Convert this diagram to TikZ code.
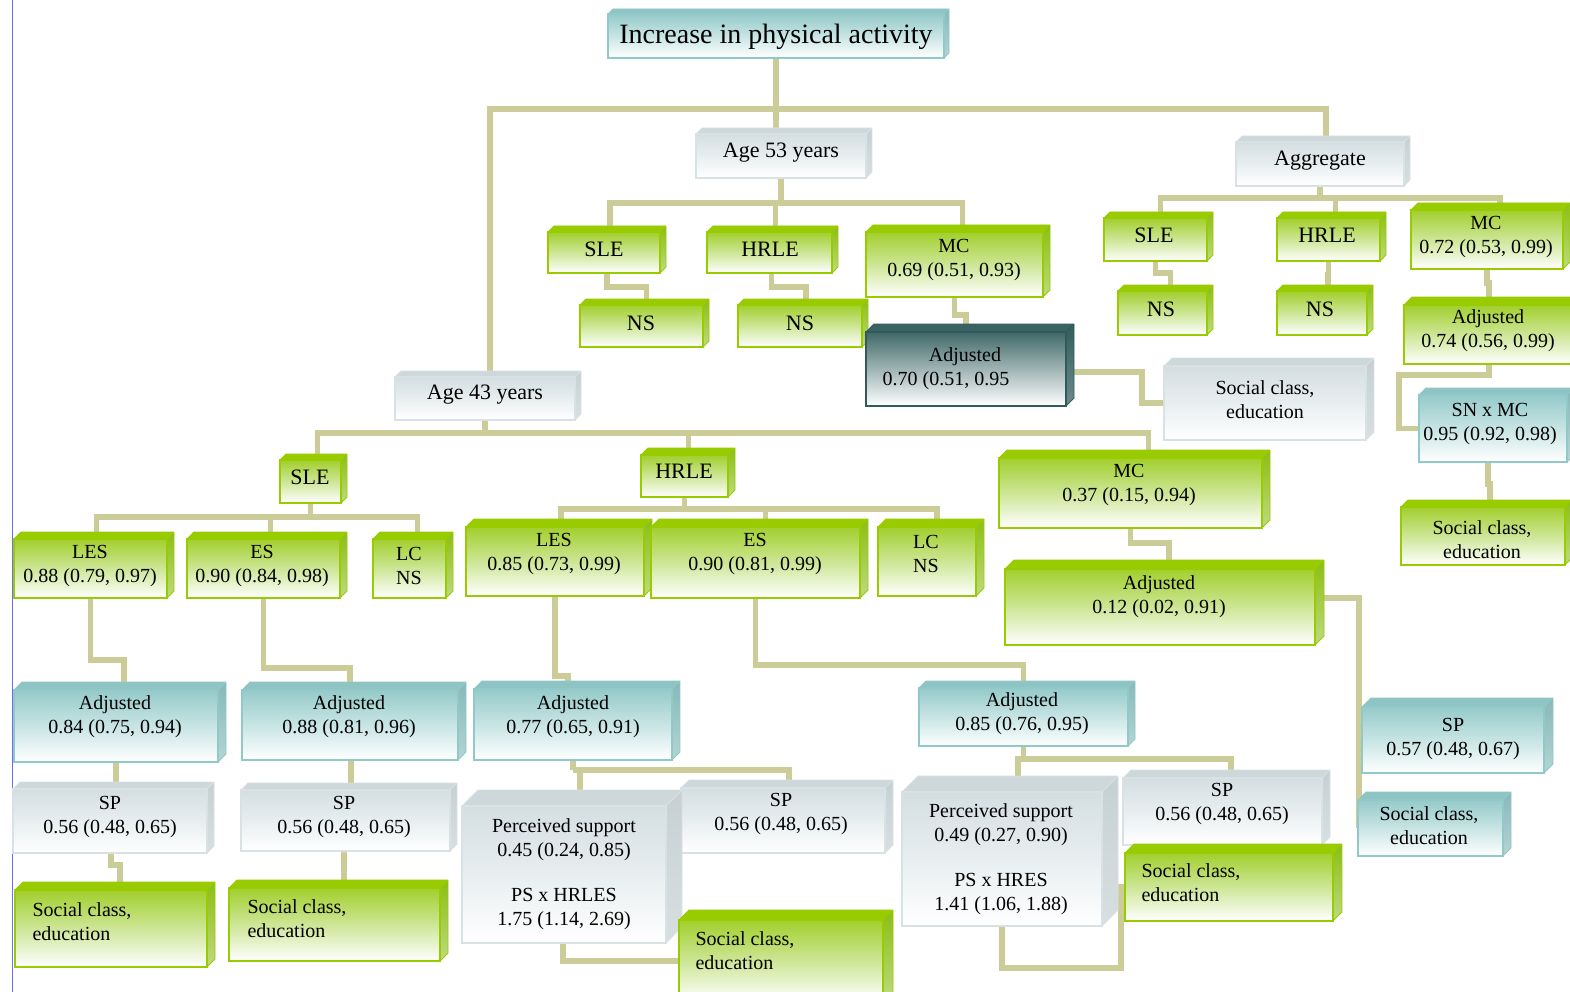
\documentclass[tikz,border=0pt]{standalone}
\usepackage{fontspec}
\setmainfont{Liberation Serif}

% colour sets: face = top face, front = front-top tint, mid = halfway tint,
% sideA/sideB = right face gradient, line = outline
\definecolor{grface}{RGB}{153,204,0}
\definecolor{grfront}{RGB}{162,207,45}
\definecolor{grmid}{RGB}{205,230,150}
\definecolor{grsideA}{RGB}{140,190,20}
\definecolor{grsideB}{RGB}{190,218,130}
\definecolor{grline}{RGB}{153,204,0}

\definecolor{tlface}{RGB}{143,196,196}
\definecolor{tlfront}{RGB}{150,202,202}
\definecolor{tlmid}{RGB}{200,228,228}
\definecolor{tlsideA}{RGB}{135,185,185}
\definecolor{tlsideB}{RGB}{180,212,212}
\definecolor{tlline}{RGB}{145,200,200}

\definecolor{gyface}{RGB}{206,216,219}
\definecolor{gyfront}{RGB}{212,222,225}
\definecolor{gymid}{RGB}{232,238,240}
\definecolor{gysideA}{RGB}{198,208,211}
\definecolor{gysideB}{RGB}{216,223,225}
\definecolor{gyline}{RGB}{216,225,228}

\definecolor{dkface}{RGB}{58,98,98}
\definecolor{dkfront}{RGB}{64,104,104}
\definecolor{dkmid}{RGB}{160,180,180}
\definecolor{dksideA}{RGB}{52,92,92}
\definecolor{dksideB}{RGB}{110,140,140}
\definecolor{dkline}{RGB}{50,90,90}

\definecolor{lineclr}{RGB}{204,204,153}
\definecolor{edgeblue}{RGB}{110,110,240}

\newcommand{\hd}{\fontsize{22}{26}\selectfont}
\newcommand{\ttl}{\fontsize{28}{32}\selectfont}

\pgfdeclarelayer{paper}
\pgfdeclarelayer{wires}
\pgfsetlayers{paper,wires,main}

\tikzset{
  conn/.style={draw=lineclr, line width=5.5pt},
  boxtext/.style={inner sep=0pt, align=center, yshift=-3pt, font=\fontsize{20}{24}\selectfont},
}

% #1 colour set, #2 name, #3 x1, #4 y1, #5 x2, #6 y2, #7 depth, #8 text centre, #9 text
\newcommand{\cube}[9]{%
  \fill[#1face] (#3,#4) -- ({#3+#7},{#4-#7}) -- ({#5+#7},{#4-#7}) -- (#5,#4) -- cycle;
  \shade[top color=#1sideA, bottom color=#1sideB]
    (#5,#4) -- ({#5+#7},{#4-#7}) -- ({#5+#7},{#6-#7}) -- (#5,#6) -- cycle;
  \shade[top color=#1front, bottom color=white, middle color=#1mid] (#3,#4) rectangle (#5,#6);
  \draw[#1line, line width=1.4pt] (#3,#4) rectangle (#5,#6);
  \draw[#1line, line width=0.8pt, line join=round]
    (#3,#4) -- ({#3+#7},{#4-#7}) -- ({#5+#7},{#4-#7}) -- ({#5+#7},{#6-#7}) -- (#5,#6)
    (#5,#4) -- ({#5+#7},{#4-#7});
  \node[inner sep=0pt, minimum width={#5-#3}, minimum height={#6-#4}] (#2)
    at ({(#3+#5)/2},{(#4+#6)/2}) {};
  \node[boxtext] (#2-t) at (#8) {#9};
}
\newcommand{\leftpair}[2]{\begin{tabular}{@{}l@{}}#1\\#2\end{tabular}}

\begin{document}
\begin{tikzpicture}[x=1pt,y=-1pt]
\useasboundingbox (0,0) rectangle (1570,992);
\clip (0,0) rectangle (1570,992);
\begin{pgfonlayer}{paper}
  \fill[white] (0,0) rectangle (1570,992);
  \draw[edgeblue, line width=1.2pt] (12.5,0) -- (12.5,992);
\end{pgfonlayer}

% ---------- top levels ----------
\cube{tl}{title}{608}{14}{944}{58}{5}{776,34}{\ttl Increase in physical activity}
\cube{gy}{age53}{696}{134}{866}{178}{6}{781,150}{\hd Age 53 years}
\cube{gy}{aggr}{1236}{142}{1404}{186}{6}{1320,158}{\hd Aggregate}
\cube{gy}{age43}{395}{377}{575}{420}{6}{485,392}{\hd Age 43 years}

% ---------- age 53 branch ----------
\cube{gr}{sle53}{548}{232}{660}{273}{6}{604,246}{\hd SLE}
\cube{gr}{hrle53}{707}{232}{832}{273}{6}{770,246}{\hd HRLE}
\cube{gr}{mc53}{866}{232}{1043}{297}{7}{954,257}{MC\\0.69 (0.51, 0.93)}
\cube{gr}{ns1}{580}{305}{703}{347}{6}{641,320}{\hd NS}
\cube{gr}{ns2}{738}{305}{862}{347}{6}{800,320}{\hd NS}
\cube{dk}{adj53}{866}{332}{1066}{406}{8}{946,366}{\hspace*{38pt}Adjusted\\0.70 (0.51, 0.95}
\cube{gy}{sc53}{1164}{366}{1366}{440}{8}{1265,397}{Social class,\\education}

% ---------- aggregate branch ----------
\cube{gr}{sleag}{1104}{218}{1207}{261}{6}{1154,232}{\hd SLE}
\cube{gr}{hrleag}{1277}{218}{1380}{261}{6}{1327,232}{\hd HRLE}
\cube{gr}{mcag}{1411}{210}{1563}{269}{7}{1486,234}{MC\\0.72 (0.53, 0.99)}
\cube{gr}{nsag1}{1118}{291}{1207}{335}{6}{1161,306}{\hd NS}
\cube{gr}{nsag2}{1277}{291}{1367}{335}{6}{1320,306}{\hd NS}
\cube{gr}{adjag}{1404}{305}{1574}{364}{8}{1488,328}{Adjusted\\0.74 (0.56, 0.99)}
\cube{tl}{snmc}{1419}{395}{1567}{462}{7}{1490,421}{SN x MC\\0.95 (0.92, 0.98)}
\cube{gr}{scag}{1401}{507}{1565}{565}{7}{1482,537}{Social class,\\education}

% ---------- age 43 branch ----------
\cube{gr}{sle43}{280}{460}{341}{503}{6}{310,474}{\hd SLE}
\cube{gr}{hrle43}{641}{455}{728}{497}{7}{684,468}{\hd HRLE}
\cube{gr}{mc43}{999}{458}{1262}{528}{8}{1129,482}{MC\\0.37 (0.15, 0.94)}
\cube{gr}{les1}{14}{539}{167}{598}{7}{90,563}{LES\\0.88 (0.79, 0.97)}
\cube{gr}{es1}{187}{539}{340}{598}{7}{262,563}{ES\\0.90 (0.84, 0.98)}
\cube{gr}{lc1}{373}{539}{446}{598}{7}{409,563}{LC\\NS}
\cube{gr}{les2}{466}{527}{644}{596}{8}{554,551}{LES\\0.85 (0.73, 0.99)}
\cube{gr}{es2}{651}{527}{860}{598}{8}{755,551}{ES\\0.90 (0.81, 0.99)}
\cube{gr}{lc2}{878}{527}{976}{596}{8}{926,551}{LC\\NS}
\cube{gr}{adjmc}{1005}{569}{1315}{645}{9}{1159,594}{Adjusted\\0.12 (0.02, 0.91)}

\cube{tl}{adj1}{14}{690}{218}{762}{8}{115,714}{Adjusted\\0.84 (0.75, 0.94)}
\cube{tl}{adj2}{242}{690}{458}{760}{8}{349,714}{Adjusted\\0.88 (0.81, 0.96)}
\cube{tl}{adj3}{474}{689}{672}{760}{8}{573,714}{Adjusted\\0.77 (0.65, 0.91)}
\cube{tl}{adj4}{919}{688}{1128}{746}{7}{1022,711}{Adjusted\\0.85 (0.76, 0.95)}
\cube{tl}{sp57}{1362}{707}{1544}{773}{9}{1453,736}{SP\\0.57 (0.48, 0.67)}
\cube{tl}{sct}{1358}{800}{1503}{856}{8}{1429,823}{Social class,\\education}

\cube{gy}{sp1}{13}{789}{207}{853}{7}{110,814}{SP\\0.56 (0.48, 0.65)}
\cube{gy}{sp2}{241}{790}{450}{851}{7}{344,814}{SP\\0.56 (0.48, 0.65)}
\cube{gy}{sp3}{681}{788}{885}{853}{8}{781,811}{SP\\0.56 (0.48, 0.65)}
\cube{gy}{ps1}{462}{806}{666}{943}{16}{564,871}{Perceived support\\0.45 (0.24, 0.85)\\[21pt]PS x HRLES\\1.75 (1.14, 2.69)}
\cube{gr}{scb1}{15}{890}{207}{967}{8}{82,921}{\leftpair{Social class,}{education}}
\cube{gr}{scb2}{229}{888}{440}{961}{8}{297,918}{\leftpair{Social class,}{education}}
\cube{gr}{scb3}{679}{920}{883}{1002}{10}{745,950}{\leftpair{Social class,}{education}}
\cube{gy}{ps2}{902}{792}{1102}{926}{16}{1001,856}{Perceived support\\0.49 (0.27, 0.90)\\[21pt]PS x HRES\\1.41 (1.06, 1.88)}
\cube{gy}{sp4}{1123}{778}{1322}{845}{8}{1222,801}{SP\\0.56 (0.48, 0.65)}
\cube{gr}{scb4}{1125}{853}{1333}{921}{9}{1191,882}{\leftpair{Social class,}{education}}

% ---------- connectors, laid under the boxes ----------
\begin{pgfonlayer}{wires}
  \coordinate (hub0) at (776,109);
  \draw[conn] (title.south) -- ([xshift=-5pt]age53.north);
  \draw[conn] (hub0) -| ([xshift=5pt]age43.north);
  \draw[conn] (hub0) -| ([xshift=6pt]aggr.north);

  \draw[conn] (age53.south) -- ++(0,25) coordinate (hub53);
  \draw[conn] (hub53) -| ([xshift=6pt]sle53.north);
  \draw[conn] (hub53) -| ([xshift=6pt]hrle53.north);
  \draw[conn] (hub53) -| ([xshift=8pt]mc53.north);
  \draw[conn] ([xshift=3pt]sle53.south) -- ++(0,14) -| ([xshift=5pt]ns1.north);
  \draw[conn] ([xshift=2pt]hrle53.south) -- ++(0,14) -| ([xshift=6pt]ns2.north);
  \draw[conn] (mc53.south) -- ++(0,18) -| (adj53.north);
  \draw[conn] ([yshift=-3pt]adj53.east) -- ++(76,0) |- (sc53.west);

  \draw[conn] (aggr.south) -- ++(0,12) coordinate (hubag);
  \draw[conn] (hubag) -| ([xshift=5pt]sleag.north);
  \draw[conn] (hubag) -| ([xshift=7pt]hrleag.north);
  \draw[conn] (hubag) -| ([xshift=13pt]mcag.north);
  \draw[conn] (sleag.south) -- ++(0,12) -| ([xshift=8pt]nsag1.north);
  \draw[conn] (hrleag.south) -- ++(0,14) -| ([xshift=6pt]nsag2.north);
  \draw[conn] (mcag.south) -- ++(0,14) -| (adjag.north);
  \draw[conn] (adjag.south) -- ++(0,11) -- ++(-90,0) |- (snmc.west);
  \draw[conn] ([xshift=-5pt]snmc.south) -- ++(0,22) -| ([xshift=7pt]scag.north);

  \draw[conn] (age43.south) -- ++(0,13) coordinate (hub43);
  \draw[conn] (hub43) -| ([xshift=7pt]sle43.north);
  \draw[conn] (hub43) -| ([xshift=4pt]hrle43.north);
  \draw[conn] (hub43) -| ([xshift=18pt]mc43.north);

  \draw[conn] (sle43.south) -- ++(0,14) coordinate (hubs);
  \draw[conn] (hubs) -| ([xshift=6pt]les1.north);
  \draw[conn] (hubs) -| ([xshift=7pt]es1.north);
  \draw[conn] (hubs) -| ([xshift=8pt]lc1.north);

  \draw[conn] (hrle43.south) -- ++(0,12) coordinate (hubh);
  \draw[conn] (hubh) -| ([xshift=6pt]les2.north);
  \draw[conn] (hubh) -| ([xshift=10pt]es2.north);
  \draw[conn] (hubh) -| ([xshift=10pt]lc2.north);

  \draw[conn] (mc43.south) -- ++(0,15) -| ([xshift=9pt]adjmc.north);
  \draw[conn] ([yshift=9pt]adjmc.east) -| ([xshift=1pt]sct.west);

  \draw[conn] (les1.south) -- ++(0,62) -| ([xshift=8pt]adj1.north);
  \draw[conn] (es1.south) -- ++(0,70) -| (adj2.north);
  \draw[conn] (les2.south) -- ++(0,80) -| ([xshift=-5pt]adj3.north);
  \draw[conn] (es2.south) -- ++(0,67) -| (adj4.north);

  \draw[conn] (adj1.south) -- ([xshift=6pt]sp1.north);
  \draw[conn] ([xshift=1pt]sp1.south) -- ++(0,12) -| ([xshift=9pt]scb1.north);
  \draw[conn] ([xshift=1pt]adj2.south) -- ([xshift=5.5pt]sp2.north);
  \draw[conn] ([xshift=-1.5pt]sp2.south) -- ([xshift=9.5pt]scb2.north);

  \draw[conn] (adj3.south) -- ++(0,10) coordinate (hubp1);
  \draw[conn] (hubp1) -| ([xshift=6pt]sp3.north);
  \draw[conn] (hubp1) -| ([xshift=16pt]ps1.north);
  \draw[conn] ([xshift=-1pt]ps1.south) |- (scb3.west);

  \draw[conn] (adj4.south) -- ++(0,13) coordinate (hubp2);
  \draw[conn] (hubp2) -| ([xshift=8.5pt]sp4.north);
  \draw[conn] (hubp2) -| ([xshift=16pt]ps2.north);
  \draw[conn] (ps2.south) -- ++(0,42) -- ++(119,0) |- (scb4.west);
\end{pgfonlayer}
\end{tikzpicture}
\end{document}
